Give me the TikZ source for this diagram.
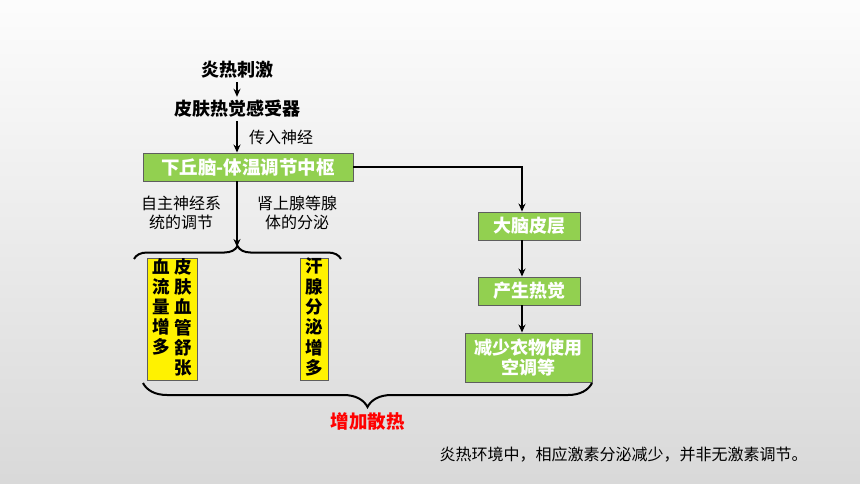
\documentclass[tikz,border=0pt]{standalone}
\usepackage{fontspec}
\setmainfont{Noto Sans CJK SC}
\usetikzlibrary{arrows.meta,positioning,decorations.pathreplacing}

\definecolor{boxgreen}{HTML}{92D050}
\definecolor{boxline}{HTML}{5E5E5E}
\definecolor{inkred}{HTML}{FF0000}
\newcommand{\vcol}[1]{\begin{tabular}[t]{@{}c@{}}#1\end{tabular}}

\tikzset{
  greenbox/.style={draw=boxline, fill=boxgreen, text=white, line width=0.9pt,
    font=\bfseries\fontsize{18}{20}\selectfont, inner sep=0pt, align=center},
  yellowbox/.style={draw=boxline, fill=yellow, line width=0.7pt, inner sep=0pt,
    minimum height=118pt, font=\bfseries\fontsize{17.5}{17.8}\selectfont},
  headtext/.style={font=\bfseries\fontsize{18}{20}\selectfont},
  sidetext/.style={font=\fontsize{16}{18.5}\selectfont, align=center},
  arr/.style={-{Stealth[length=8pt,width=7pt]}, line width=2pt},
  bracepath/.style={line width=2pt, decorate, decoration={brace, amplitude=#1}}
}

\begin{document}
\begin{tikzpicture}[x=1pt, y=-1pt]
  \shade[top color=white!99!black, bottom color=black!15] (0,0) rectangle (860,484);
  \useasboundingbox (0,0) rectangle (860,484);

  % left column
  \node[headtext] (stim) at (237,70) {炎热刺激};
  \node[headtext] (recep) at (237,109) {皮肤热觉感受器};
  \node[greenbox, font=\bfseries\fontsize{18.5}{20}\selectfont, minimum width=210pt, minimum height=28pt] (hypo) at (248,167) {下丘脑-体温调节中枢};
  \node[sidetext] (afferent) at (281,137) {传入神经};
  \node[sidetext] (nerve) at (181,213) {自主神经系\\统的调节};
  \node[sidetext] (gland) at (297,213) {肾上腺等腺\\体的分泌};
  \coordinate (uptip) at (237,247);
  \coordinate (upl) at (134,259);
  \coordinate (upr) at (341,259);

  \node[yellowbox, minimum width=50pt] (skin) at (172,319)
    {\vcol{血\\流\\量\\增\\多}\hspace{5pt}\vcol{皮\\肤\\血\\管\\舒\\张}};
  \node[yellowbox, minimum width=28pt] (sweat) at (314.5,319)
    {\vcol{汗\\腺\\分\\泌\\增\\多}};

  % right column
  \coordinate (colx) at (522,0);
  \node[greenbox, minimum width=102pt, minimum height=28pt] (cortex) at (529,226) {大脑皮层};
  \node[greenbox, minimum width=102pt, minimum height=28pt] (feel) at (529,291) {产生热觉};
  \node[greenbox, minimum width=127pt, minimum height=49pt] (act) at (528.5,357.5) {减少衣物使用\\空调等};

  % bottom
  \coordinate (lowl) at (143,383);
  \coordinate (lowr) at (592,383);
  \node[font=\bfseries\fontsize{18.5}{20}\selectfont, text=inkred] (heat) at (367.5,421) {增加散热};
  \node[font=\fontsize{16}{18}\selectfont, anchor=west] (note) at (436,455) {炎热环境中，相应激素分泌减少，并非无激素调节。};

  \draw[arr] (stim) -- (recep);
  \draw[arr] (recep.south) -- (recep.south |- hypo.north);
  \draw[arr] (hypo.south -| uptip) -- (uptip);
  \draw[arr] (hypo.east) -| (colx |- cortex.north);
  \draw[arr] (colx |- cortex.south) -- (colx |- feel.north);
  \draw[arr] (colx |- feel.south) -- (colx |- act.north);
  \draw[bracepath=13pt] (upl) -- (upr);
  \draw[bracepath=24pt] (lowr) -- (lowl);
\end{tikzpicture}
\end{document}
